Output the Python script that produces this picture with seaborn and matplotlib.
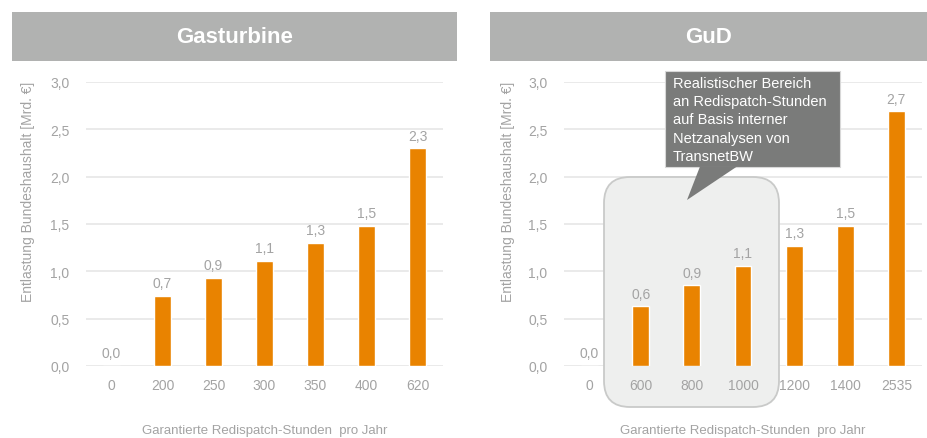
import numpy as np
import matplotlib
matplotlib.use("Agg")
import matplotlib.pyplot as plt
import seaborn as sns
from matplotlib.patches import Rectangle, FancyBboxPatch, Polygon

# ---- data ----
gas_hours = ["0", "200", "250", "300", "350", "400", "620"]
gas_values = [0.0, 0.74, 0.93, 1.11, 1.30, 1.48, 2.30]
gud_hours = ["0", "600", "800", "1000", "1200", "1400", "2535"]
gud_values = [0.0, 0.63, 0.855, 1.06, 1.27, 1.48, 2.69]
panel_titles = ["Gasturbine", "GuD"]
y_ticks = [0.0, 0.5, 1.0, 1.5, 2.0, 2.5, 3.0]
y_label = "Entlastung Bundeshaushalt [Mrd. €]"
x_label = "Garantierte Redispatch-Stunden  pro Jahr"
callout_text = ("Realistischer Bereich\nan Redispatch-Stunden\nauf Basis interner\n"
                "Netzanalysen von\nTransnetBW")
highlight = ["600", "800", "1000"]

ORANGE = "#E98300"
GRAY_TXT = "#A3A3A3"
HEADER = "#B1B2B1"
GRID = "#E6E6E6"
CALLOUT = "#7A7B7A"

sns.set_theme(style="white")
plt.rcParams["font.family"] = ["Liberation Sans", "DejaVu Sans"]

W, H = 928, 439
fig = plt.figure(figsize=(W / 100, H / 100), dpi=100)


def px_axes(x0, x1, ytop, ybot):
    return fig.add_axes([x0 / W, (H - ybot) / H, (x1 - x0) / W, (ybot - ytop) / H])


def fmt(v):
    return f"{v:.1f}".replace(".", ",")


def draw_panel(ax, cats, vals, ylab_x):
    sns.barplot(x=cats, y=vals, order=cats, color=ORANGE, saturation=1,
                width=0.33, ax=ax, zorder=2)
    ax.set_axisbelow(False)
    ax.set_xlim(-0.5, len(cats) - 0.5)
    ax.set_ylim(0, 3.0)
    ax.set_yticks(y_ticks)
    ax.set_yticklabels([fmt(t) for t in y_ticks])
    for t in y_ticks:
        ax.axhline(t, color=GRID, lw=1.2, zorder=0.3)
    ax.grid(False)
    for s in ax.spines.values():
        s.set_visible(False)
    ax.tick_params(axis="both", length=0, colors=GRAY_TXT, labelsize=10)
    ax.tick_params(axis="y", pad=12)
    ax.tick_params(axis="x", pad=9)
    ax.bar_label(ax.containers[0], labels=[fmt(v) for v in vals], padding=4,
                 color=GRAY_TXT, fontsize=10)
    ax.set_ylabel(y_label, color=GRAY_TXT, fontsize=10)
    ax.yaxis.set_label_coords(ylab_x, 0.615)
    ax.set_xlabel(x_label, color=GRAY_TXT, fontsize=9.5)
    ax.xaxis.set_label_coords(0.5, -0.205)


ax1 = px_axes(86, 443, 83, 367)
ax2 = px_axes(564, 922, 83, 367)
draw_panel(ax1, gas_hours, gas_values, -0.143)
draw_panel(ax2, gud_hours, gud_values, -0.137)

# headers
for (x0, x1), title in zip([(12, 457), (490, 928)], panel_titles):
    fig.patches.append(Rectangle((x0 / W, (H - 62) / H), (x1 - x0) / W, 49 / H,
                                 transform=fig.transFigure, facecolor=HEADER,
                                 edgecolor="none", zorder=0))
    fig.text((x0 + x1) / 2 / W, (H - 37.5) / H, title, color="white",
             fontsize=16, fontweight="bold", ha="center", va="center")

# highlighted region (rounded box) in GuD panel, behind bars
box = FancyBboxPatch((6.04, (H - 408) / 100), 1.75, 2.30,
                     boxstyle="round,pad=0,rounding_size=0.26",
                     transform=fig.dpi_scale_trans, facecolor="#EEEFEE",
                     edgecolor="#C9CAC9", lw=1.3, zorder=0.6, clip_on=False)
ax2.add_patch(box)

# callout
cx0, cx1, cyt, cyb = 665, 840, 72, 168
callout = Rectangle((cx0 / 100, (H - cyb) / 100), (cx1 - cx0) / 100, (cyb - cyt) / 100,
                    transform=fig.dpi_scale_trans, facecolor=CALLOUT,
                    edgecolor="#D8D8D8", lw=0.8, zorder=5, clip_on=False)
pointer = Polygon([(700 / 100, (H - cyb + 0.5) / 100), (737 / 100, (H - cyb + 0.5) / 100),
                   (687 / 100, (H - 201) / 100)], closed=True,
                  transform=fig.dpi_scale_trans, facecolor=CALLOUT,
                  edgecolor="none", zorder=6, clip_on=False)
ax2.add_patch(callout)
ax2.add_patch(pointer)
ax2.text(673 / 100, (H - 77) / 100, callout_text, transform=fig.dpi_scale_trans,
         color="white", fontsize=10.5, ha="left", va="top", linespacing=1.38,
         zorder=7)

fig.savefig("out.png", dpi=100)
